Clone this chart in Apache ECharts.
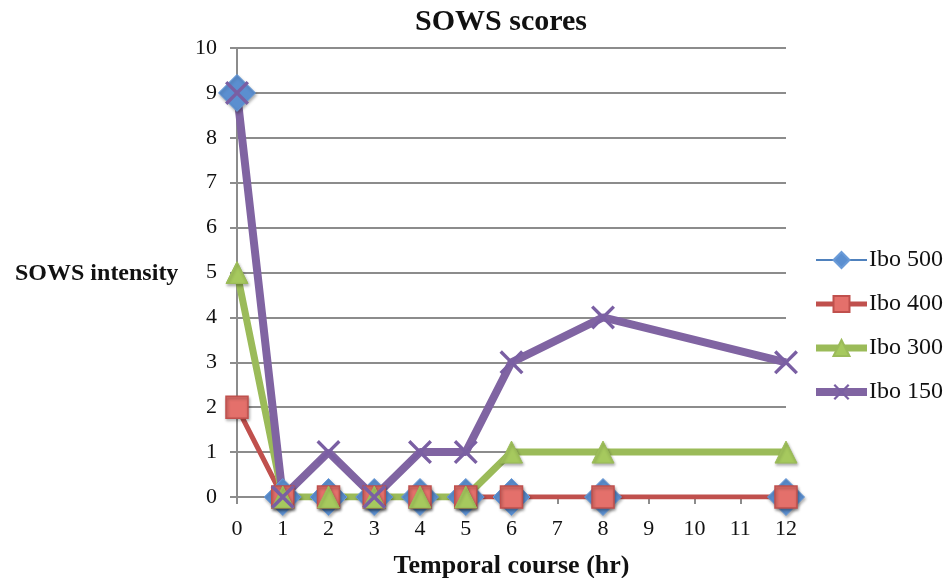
<!DOCTYPE html>
<html>
<head>
<meta charset="utf-8">
<script src="https://cdn.jsdelivr.net/npm/echarts@6/dist/echarts.min.js"></script>
<style>
  html, body { margin: 0; padding: 0; background: #fff; }
  #chart { width: 948px; height: 578px; }
</style>
</head>
<body>
<div id="chart"></div>
<script>
// Hours at which SOWS was scored
const hours = [0, 1, 2, 3, 4, 5, 6, 8, 12];

// SOWS intensity per dose group
const ibo500 = [9, 0, 0, 0, 0, 0, 0, 0, 0];
const ibo400 = [2, 0, 0, 0, 0, 0, 0, 0, 0];
const ibo300 = [5, 0, 0, 0, 0, 0, 1, 1, 1];
const ibo150 = [9, 0, 1, 0, 1, 1, 3, 4, 3];

const seriesNames = ['Ibo 500', 'Ibo 400', 'Ibo 300', 'Ibo 150'];

const pairs = vals => hours.map((h, i) => [h, vals[i]]);

const serif = '"Liberation Serif", "DejaVu Serif", serif';
const diamondPath = 'path://M5,0 L10,5 L5,10 L0,5 Z';
const crossPath = 'path://M1,0 L5,4 L9,0 L10,1 L6,5 L10,9 L9,10 L5,6 L1,10 L0,9 L4,5 L0,1 Z';
const markerShadow = { shadowBlur: 3, shadowColor: 'rgba(0,0,0,0.3)', shadowOffsetX: 1, shadowOffsetY: 2 };

const chart = echarts.init(document.getElementById('chart'));
chart.setOption({
  animation: false,
  backgroundColor: '#ffffff',
  title: {
    text: 'SOWS scores',
    left: 410,
    top: 2,
    textStyle: { fontFamily: serif, fontWeight: 'bold', fontSize: 30, color: '#111' }
  },
  graphic: [{
    type: 'text',
    left: 15,
    top: 262,
    style: { text: 'SOWS intensity', font: 'bold 24px ' + serif, fill: '#111' }
  }],
  legend: {
    orient: 'vertical',
    left: 812,
    top: 248,
    padding: 0,
    itemWidth: 51,
    itemHeight: 20,
    itemGap: 20,
    lineStyle: { width: 'inherit' },
    data: seriesNames,
    textStyle: { fontFamily: serif, fontSize: 24, color: '#111', padding: [0, 0, 0, -3] }
  },
  grid: { left: 237, right: 162, top: 48, bottom: 81, containLabel: false, outerBoundsMode: 'none' },
  xAxis: {
    type: 'value',
    min: 0, max: 12, interval: 1,
    name: 'Temporal course (hr)',
    nameLocation: 'middle',
    nameGap: 56,
    nameTextStyle: { fontFamily: serif, fontWeight: 'bold', fontSize: 26, color: '#111' },
    axisLine: { show: true, onZero: false, lineStyle: { color: '#8c8c8c', width: 2 } },
    axisTick: { show: true, length: 7, lineStyle: { color: '#8c8c8c', width: 2 } },
    axisLabel: { fontFamily: serif, fontSize: 22, color: '#111', margin: 21 },
    splitLine: { show: false }
  },
  yAxis: {
    type: 'value',
    min: 0, max: 10, interval: 1,
    axisLine: { show: true, lineStyle: { color: '#8c8c8c', width: 2 } },
    axisTick: { show: true, length: 7, lineStyle: { color: '#8c8c8c', width: 2 } },
    axisLabel: { fontFamily: serif, fontSize: 22, color: '#111', margin: 20 },
    splitLine: { show: true, lineStyle: { color: '#8c8c8c', width: 2 } }
  },
  series: [
    {
      name: seriesNames[0], type: 'line', data: pairs(ibo500),
      symbol: diamondPath, symbolSize: 37,
      itemStyle: Object.assign({ color: '#5b8fd0', borderColor: '#6a9bd8', borderWidth: 1 }, markerShadow),
      lineStyle: { color: '#4f81bd', width: 2 }
    },
    {
      name: seriesNames[1], type: 'line', data: pairs(ibo400),
      symbol: 'rect', symbolSize: 22,
      itemStyle: Object.assign({ color: '#e4706b', borderColor: '#c0504d', borderWidth: 1.5 }, markerShadow),
      lineStyle: { color: '#c0504d', width: 5 }
    },
    {
      name: seriesNames[2], type: 'line', data: pairs(ibo300),
      symbol: 'triangle', symbolSize: 22,
      itemStyle: Object.assign({ color: '#a6c95e', borderColor: '#9bbb59', borderWidth: 1 }, markerShadow),
      lineStyle: { color: '#9bbb59', width: 7 }
    },
    {
      name: seriesNames[3], type: 'line', data: pairs(ibo150),
      symbol: crossPath, symbolSize: 24,
      itemStyle: { color: '#7a5fa3' },
      lineStyle: { color: '#8064a2', width: 8 }
    }
  ]
});
</script>
</body>
</html>
